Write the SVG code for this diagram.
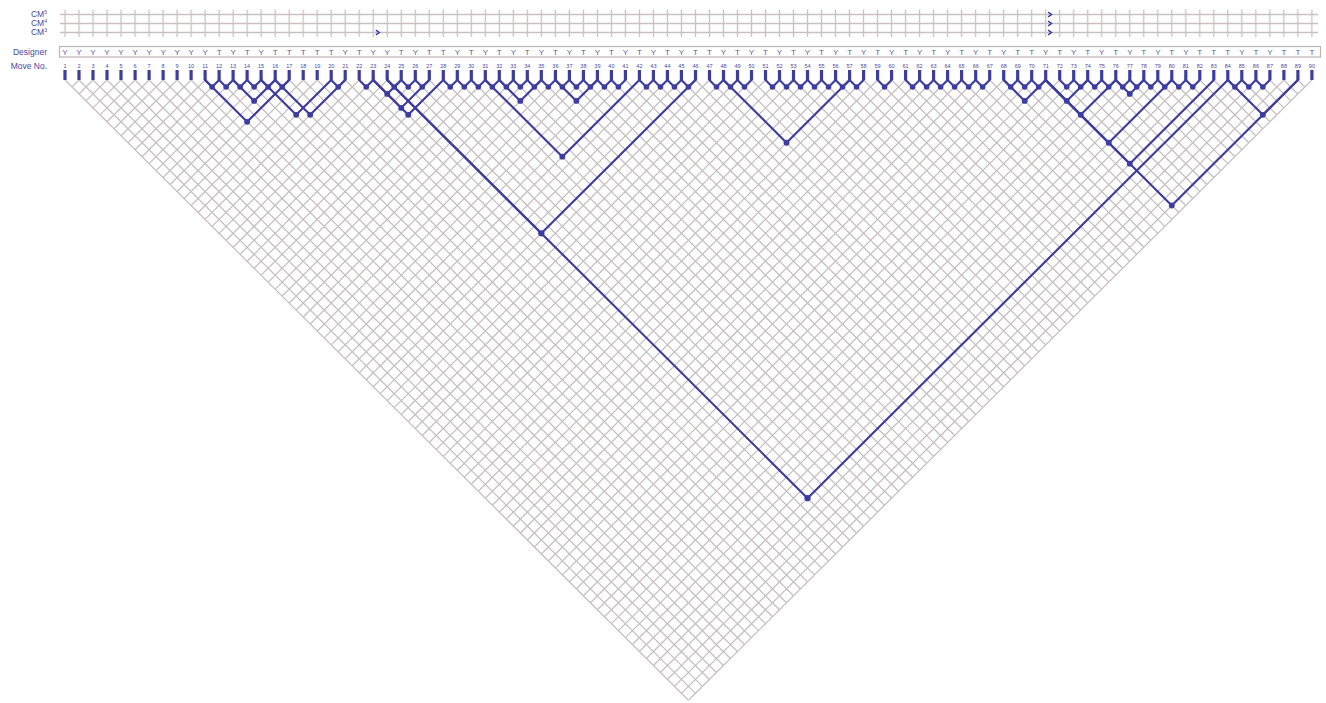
<svg xmlns="http://www.w3.org/2000/svg" width="1326" height="703" viewBox="0 0 1326 703">
<style>
.g{fill:none;stroke:#c9c1c1;stroke-width:1.3;vector-effect:non-scaling-stroke}
.hg{fill:none;stroke:#c9c1c1;stroke-width:1.3}
.lk path{fill:none;stroke:#3c3ca8;stroke-width:2.1;stroke-linejoin:round;stroke-linecap:round;vector-effect:non-scaling-stroke}
.lk circle{fill:#3c3ca8}
.mv path{stroke:#3c3ca8;stroke-width:3.2}
.mv text{font-family:"Liberation Sans",Arial,sans-serif;font-size:5.5px;fill:#4848a8;text-anchor:middle}
.mv text.d{font-size:8px;fill:#5a5aa8}
.lab{font-family:"Liberation Sans",Arial,sans-serif;font-size:8.5px;fill:#4848a8;text-anchor:end}
</style>
<defs>
<pattern id="vl" patternUnits="userSpaceOnUse" x="57.995" y="0" width="14.01" height="40"><path d="M7.005 0V40" stroke="#c9c1c1" stroke-width="1.3"/></pattern>
<path id="chev" d="M-1.6 -2.4L1.8 0L-1.6 2.4" fill="none" stroke="#3c3ca8" stroke-width="1.5"/>
</defs>
<rect width="1326" height="703" fill="#fff"/>
<g id="header">
<rect x="58" y="9.5" width="1261" height="27.5" fill="url(#vl)"/>
<path class="hg" d="M60 14.5H1318M60 23.5H1318M60 32.5H1318"/>
<rect x="59.5" y="46.5" width="1261" height="10.5" fill="none" stroke="#bdb5b5" stroke-width="1.2"/>
<text class="lab" x="47" y="17">CM<tspan font-size="5" dy="-3">5</tspan></text>
<text class="lab" x="47" y="26">CM<tspan font-size="5" dy="-3">4</tspan></text>
<text class="lab" x="47" y="35">CM<tspan font-size="5" dy="-3">3</tspan></text>
<text class="lab" x="47" y="54.5">Designer</text>
<text class="lab" x="47" y="69">Move No.</text>
<use href="#chev" x="377.5" y="32.5"/>
<use href="#chev" x="1049.7" y="14.5"/>
<use href="#chev" x="1049.7" y="23.5"/>
<use href="#chev" x="1049.7" y="32.5"/>
</g>
<g id="grid" transform="translate(65,80) scale(7.005,6.97)">
<path class="g" d="M0 0l89 89M2 0l88 88M4 0l87 87M6 0l86 86M8 0l85 85M10 0l84 84M12 0l83 83M14 0l82 82M16 0l81 81M18 0l80 80M20 0l79 79M22 0l78 78M24 0l77 77M26 0l76 76M28 0l75 75M30 0l74 74M32 0l73 73M34 0l72 72M36 0l71 71M38 0l70 70M40 0l69 69M42 0l68 68M44 0l67 67M46 0l66 66M48 0l65 65M50 0l64 64M52 0l63 63M54 0l62 62M56 0l61 61M58 0l60 60M60 0l59 59M62 0l58 58M64 0l57 57M66 0l56 56M68 0l55 55M70 0l54 54M72 0l53 53M74 0l52 52M76 0l51 51M78 0l50 50M80 0l49 49M82 0l48 48M84 0l47 47M86 0l46 46M88 0l45 45M90 0l44 44M92 0l43 43M94 0l42 42M96 0l41 41M98 0l40 40M100 0l39 39M102 0l38 38M104 0l37 37M106 0l36 36M108 0l35 35M110 0l34 34M112 0l33 33M114 0l32 32M116 0l31 31M118 0l30 30M120 0l29 29M122 0l28 28M124 0l27 27M126 0l26 26M128 0l25 25M130 0l24 24M132 0l23 23M134 0l22 22M136 0l21 21M138 0l20 20M140 0l19 19M142 0l18 18M144 0l17 17M146 0l16 16M148 0l15 15M150 0l14 14M152 0l13 13M154 0l12 12M156 0l11 11M158 0l10 10M160 0l9 9M162 0l8 8M164 0l7 7M166 0l6 6M168 0l5 5M170 0l4 4M172 0l3 3M174 0l2 2M176 0l1 1"/>
<path class="g" d="M2 0l-1 1M4 0l-2 2M6 0l-3 3M8 0l-4 4M10 0l-5 5M12 0l-6 6M14 0l-7 7M16 0l-8 8M18 0l-9 9M20 0l-10 10M22 0l-11 11M24 0l-12 12M26 0l-13 13M28 0l-14 14M30 0l-15 15M32 0l-16 16M34 0l-17 17M36 0l-18 18M38 0l-19 19M40 0l-20 20M42 0l-21 21M44 0l-22 22M46 0l-23 23M48 0l-24 24M50 0l-25 25M52 0l-26 26M54 0l-27 27M56 0l-28 28M58 0l-29 29M60 0l-30 30M62 0l-31 31M64 0l-32 32M66 0l-33 33M68 0l-34 34M70 0l-35 35M72 0l-36 36M74 0l-37 37M76 0l-38 38M78 0l-39 39M80 0l-40 40M82 0l-41 41M84 0l-42 42M86 0l-43 43M88 0l-44 44M90 0l-45 45M92 0l-46 46M94 0l-47 47M96 0l-48 48M98 0l-49 49M100 0l-50 50M102 0l-51 51M104 0l-52 52M106 0l-53 53M108 0l-54 54M110 0l-55 55M112 0l-56 56M114 0l-57 57M116 0l-58 58M118 0l-59 59M120 0l-60 60M122 0l-61 61M124 0l-62 62M126 0l-63 63M128 0l-64 64M130 0l-65 65M132 0l-66 66M134 0l-67 67M136 0l-68 68M138 0l-69 69M140 0l-70 70M142 0l-71 71M144 0l-72 72M146 0l-73 73M148 0l-74 74M150 0l-75 75M152 0l-76 76M154 0l-77 77M156 0l-78 78M158 0l-79 79M160 0l-80 80M162 0l-81 81M164 0l-82 82M166 0l-83 83M168 0l-84 84M170 0l-85 85M172 0l-86 86M174 0l-87 87M176 0l-88 88M178 0l-89 89"/>
</g>
<g id="connectors" class="lk" transform="translate(65,80) scale(7.005,6.97)">
<path d="M20 0L21 1L22 0"/><path d="M22 0L23 1L24 0"/><path d="M24 0L25 1L26 0"/><path d="M26 0L27 1L28 0"/><path d="M28 0L29 1L30 0"/><path d="M30 0L31 1L32 0"/>
<path d="M24 0L27 3L30 0"/><path d="M20 0L26 6L32 0"/><path d="M28 0L33 5L38 0"/><path d="M30 0L35 5L40 0"/><path d="M38 0L39 1L40 0"/>
<path d="M42 0L43 1L44 0"/><path d="M44 0L46 2L48 0"/><path d="M44 0L48 4L52 0"/><path d="M44 0L49 5L54 0"/>
<path d="M46 0L47 1L48 0"/><path d="M48 0L49 1L50 0"/><path d="M50 0L51 1L52 0"/>
<path d="M46 0L68 22L90 0"/><path d="M46 0L106 60L166 0"/>
<path d="M54 0L55 1L56 0"/><path d="M56 0L57 1L58 0"/><path d="M58 0L59 1L60 0"/><path d="M60 0L61 1L62 0"/><path d="M62 0L63 1L64 0"/><path d="M64 0L65 1L66 0"/><path d="M66 0L67 1L68 0"/><path d="M68 0L69 1L70 0"/><path d="M70 0L71 1L72 0"/><path d="M72 0L73 1L74 0"/><path d="M74 0L75 1L76 0"/><path d="M76 0L77 1L78 0"/><path d="M78 0L79 1L80 0"/>
<path d="M62 0L65 3L68 0"/><path d="M70 0L73 3L76 0"/><path d="M60 0L71 11L82 0"/>
<path d="M82 0L83 1L84 0"/><path d="M84 0L85 1L86 0"/><path d="M86 0L87 1L88 0"/><path d="M88 0L89 1L90 0"/>
<path d="M92 0L93 1L94 0"/><path d="M94 0L95 1L96 0"/><path d="M96 0L97 1L98 0"/><path d="M94 0L103 9L112 0"/>
<path d="M100 0L101 1L102 0"/><path d="M102 0L103 1L104 0"/><path d="M104 0L105 1L106 0"/><path d="M106 0L107 1L108 0"/><path d="M108 0L109 1L110 0"/><path d="M110 0L111 1L112 0"/><path d="M112 0L113 1L114 0"/>
<path d="M116 0L117 1L118 0"/>
<path d="M120 0L121 1L122 0"/><path d="M122 0L123 1L124 0"/><path d="M124 0L125 1L126 0"/><path d="M126 0L127 1L128 0"/><path d="M128 0L129 1L130 0"/><path d="M130 0L131 1L132 0"/>
<path d="M134 0L135 1L136 0"/><path d="M136 0L137 1L138 0"/><path d="M138 0L139 1L140 0"/><path d="M134 0L137 3L140 0"/>
<path d="M140 0L143 3L146 0"/><path d="M140 0L145 5L150 0"/><path d="M140 0L149 9L158 0"/><path d="M140 0L152 12L164 0"/><path d="M140 0L158 18L176 0"/>
<path d="M142 0L143 1L144 0"/><path d="M144 0L145 1L146 0"/><path d="M146 0L147 1L148 0"/><path d="M148 0L149 1L150 0"/><path d="M150 0L151 1L152 0"/><path d="M152 0L153 1L154 0"/><path d="M154 0L155 1L156 0"/><path d="M156 0L157 1L158 0"/><path d="M158 0L159 1L160 0"/><path d="M160 0L161 1L162 0"/><path d="M150 0L152 2L154 0"/>
<path d="M166 0L167 1L168 0"/><path d="M168 0L169 1L170 0"/><path d="M170 0L171 1L172 0"/><path d="M166 0L171 5L176 0"/>
<circle cx="21" cy="1" r="0.4"/><circle cx="23" cy="1" r="0.4"/><circle cx="25" cy="1" r="0.4"/><circle cx="27" cy="1" r="0.4"/><circle cx="29" cy="1" r="0.4"/><circle cx="31" cy="1" r="0.4"/>
<circle cx="27" cy="3" r="0.42"/><circle cx="26" cy="6" r="0.42"/><circle cx="33" cy="5" r="0.42"/><circle cx="35" cy="5" r="0.42"/><circle cx="39" cy="1" r="0.4"/>
<circle cx="43" cy="1" r="0.4"/><circle cx="46" cy="2" r="0.42"/><circle cx="48" cy="4" r="0.42"/><circle cx="49" cy="5" r="0.42"/>
<circle cx="47" cy="1" r="0.4"/><circle cx="49" cy="1" r="0.4"/><circle cx="51" cy="1" r="0.4"/>
<circle cx="68" cy="22" r="0.45"/><circle cx="106" cy="60" r="0.45"/>
<circle cx="55" cy="1" r="0.4"/><circle cx="57" cy="1" r="0.4"/><circle cx="59" cy="1" r="0.4"/><circle cx="61" cy="1" r="0.4"/><circle cx="63" cy="1" r="0.4"/><circle cx="65" cy="1" r="0.4"/><circle cx="67" cy="1" r="0.4"/><circle cx="69" cy="1" r="0.4"/><circle cx="71" cy="1" r="0.4"/><circle cx="73" cy="1" r="0.4"/><circle cx="75" cy="1" r="0.4"/><circle cx="77" cy="1" r="0.4"/><circle cx="79" cy="1" r="0.4"/>
<circle cx="65" cy="3" r="0.42"/><circle cx="73" cy="3" r="0.42"/><circle cx="71" cy="11" r="0.42"/>
<circle cx="83" cy="1" r="0.4"/><circle cx="85" cy="1" r="0.4"/><circle cx="87" cy="1" r="0.4"/><circle cx="89" cy="1" r="0.4"/>
<circle cx="93" cy="1" r="0.4"/><circle cx="95" cy="1" r="0.4"/><circle cx="97" cy="1" r="0.4"/><circle cx="103" cy="9" r="0.42"/>
<circle cx="101" cy="1" r="0.4"/><circle cx="103" cy="1" r="0.4"/><circle cx="105" cy="1" r="0.4"/><circle cx="107" cy="1" r="0.4"/><circle cx="109" cy="1" r="0.4"/><circle cx="111" cy="1" r="0.4"/><circle cx="113" cy="1" r="0.4"/>
<circle cx="117" cy="1" r="0.4"/>
<circle cx="121" cy="1" r="0.4"/><circle cx="123" cy="1" r="0.4"/><circle cx="125" cy="1" r="0.4"/><circle cx="127" cy="1" r="0.4"/><circle cx="129" cy="1" r="0.4"/><circle cx="131" cy="1" r="0.4"/>
<circle cx="135" cy="1" r="0.4"/><circle cx="137" cy="1" r="0.4"/><circle cx="139" cy="1" r="0.4"/><circle cx="137" cy="3" r="0.42"/>
<circle cx="143" cy="3" r="0.42"/><circle cx="145" cy="5" r="0.42"/><circle cx="149" cy="9" r="0.42"/><circle cx="152" cy="12" r="0.42"/><circle cx="158" cy="18" r="0.42"/>
<circle cx="143" cy="1" r="0.4"/><circle cx="145" cy="1" r="0.4"/><circle cx="147" cy="1" r="0.4"/><circle cx="149" cy="1" r="0.4"/><circle cx="151" cy="1" r="0.4"/><circle cx="153" cy="1" r="0.4"/><circle cx="155" cy="1" r="0.4"/><circle cx="157" cy="1" r="0.4"/><circle cx="159" cy="1" r="0.4"/><circle cx="161" cy="1" r="0.4"/><circle cx="152" cy="2" r="0.42"/>
<circle cx="167" cy="1" r="0.4"/><circle cx="169" cy="1" r="0.4"/><circle cx="171" cy="1" r="0.4"/><circle cx="171" cy="5" r="0.42"/>
</g>
<g id="moves" class="mv">
<g id="m1"><path d="M65 70V80"/><text x="65" y="68">1</text><text class="d" x="65" y="54.8">Y</text></g>
<g id="m2"><path d="M79 70V80"/><text x="79" y="68">2</text><text class="d" x="79" y="54.8">Y</text></g>
<g id="m3"><path d="M93 70V80"/><text x="93" y="68">3</text><text class="d" x="93" y="54.8">Y</text></g>
<g id="m4"><path d="M107 70V80"/><text x="107" y="68">4</text><text class="d" x="107" y="54.8">Y</text></g>
<g id="m5"><path d="M121 70V80"/><text x="121" y="68">5</text><text class="d" x="121" y="54.8">Y</text></g>
<g id="m6"><path d="M135.1 70V80"/><text x="135.1" y="68">6</text><text class="d" x="135.1" y="54.8">Y</text></g>
<g id="m7"><path d="M149.1 70V80"/><text x="149.1" y="68">7</text><text class="d" x="149.1" y="54.8">Y</text></g>
<g id="m8"><path d="M163.1 70V80"/><text x="163.1" y="68">8</text><text class="d" x="163.1" y="54.8">Y</text></g>
<g id="m9"><path d="M177.1 70V80"/><text x="177.1" y="68">9</text><text class="d" x="177.1" y="54.8">Y</text></g>
<g id="m10"><path d="M191.1 70V80"/><text x="191.1" y="68">10</text><text class="d" x="191.1" y="54.8">Y</text></g>
<g id="m11"><path d="M205.1 70V80"/><text x="205.1" y="68">11</text><text class="d" x="205.1" y="54.8">Y</text></g>
<g id="m12"><path d="M219.1 70V80"/><text x="219.1" y="68">12</text><text class="d" x="219.1" y="54.8">T</text></g>
<g id="m13"><path d="M233.1 70V80"/><text x="233.1" y="68">13</text><text class="d" x="233.1" y="54.8">Y</text></g>
<g id="m14"><path d="M247.1 70V80"/><text x="247.1" y="68">14</text><text class="d" x="247.1" y="54.8">T</text></g>
<g id="m15"><path d="M261.1 70V80"/><text x="261.1" y="68">15</text><text class="d" x="261.1" y="54.8">Y</text></g>
<g id="m16"><path d="M275.2 70V80"/><text x="275.2" y="68">16</text><text class="d" x="275.2" y="54.8">T</text></g>
<g id="m17"><path d="M289.2 70V80"/><text x="289.2" y="68">17</text><text class="d" x="289.2" y="54.8">T</text></g>
<g id="m18"><path d="M303.2 70V80"/><text x="303.2" y="68">18</text><text class="d" x="303.2" y="54.8">T</text></g>
<g id="m19"><path d="M317.2 70V80"/><text x="317.2" y="68">19</text><text class="d" x="317.2" y="54.8">T</text></g>
<g id="m20"><path d="M331.2 70V80"/><text x="331.2" y="68">20</text><text class="d" x="331.2" y="54.8">T</text></g>
<g id="m21"><path d="M345.2 70V80"/><text x="345.2" y="68">21</text><text class="d" x="345.2" y="54.8">Y</text></g>
<g id="m22"><path d="M359.2 70V80"/><text x="359.2" y="68">22</text><text class="d" x="359.2" y="54.8">T</text></g>
<g id="m23"><path d="M373.2 70V80"/><text x="373.2" y="68">23</text><text class="d" x="373.2" y="54.8">Y</text></g>
<g id="m24"><path d="M387.2 70V80"/><text x="387.2" y="68">24</text><text class="d" x="387.2" y="54.8">Y</text></g>
<g id="m25"><path d="M401.2 70V80"/><text x="401.2" y="68">25</text><text class="d" x="401.2" y="54.8">T</text></g>
<g id="m26"><path d="M415.3 70V80"/><text x="415.3" y="68">26</text><text class="d" x="415.3" y="54.8">Y</text></g>
<g id="m27"><path d="M429.3 70V80"/><text x="429.3" y="68">27</text><text class="d" x="429.3" y="54.8">T</text></g>
<g id="m28"><path d="M443.3 70V80"/><text x="443.3" y="68">28</text><text class="d" x="443.3" y="54.8">T</text></g>
<g id="m29"><path d="M457.3 70V80"/><text x="457.3" y="68">29</text><text class="d" x="457.3" y="54.8">Y</text></g>
<g id="m30"><path d="M471.3 70V80"/><text x="471.3" y="68">30</text><text class="d" x="471.3" y="54.8">T</text></g>
<g id="m31"><path d="M485.3 70V80"/><text x="485.3" y="68">31</text><text class="d" x="485.3" y="54.8">Y</text></g>
<g id="m32"><path d="M499.3 70V80"/><text x="499.3" y="68">32</text><text class="d" x="499.3" y="54.8">T</text></g>
<g id="m33"><path d="M513.3 70V80"/><text x="513.3" y="68">33</text><text class="d" x="513.3" y="54.8">Y</text></g>
<g id="m34"><path d="M527.3 70V80"/><text x="527.3" y="68">34</text><text class="d" x="527.3" y="54.8">T</text></g>
<g id="m35"><path d="M541.3 70V80"/><text x="541.3" y="68">35</text><text class="d" x="541.3" y="54.8">Y</text></g>
<g id="m36"><path d="M555.4 70V80"/><text x="555.4" y="68">36</text><text class="d" x="555.4" y="54.8">T</text></g>
<g id="m37"><path d="M569.4 70V80"/><text x="569.4" y="68">37</text><text class="d" x="569.4" y="54.8">Y</text></g>
<g id="m38"><path d="M583.4 70V80"/><text x="583.4" y="68">38</text><text class="d" x="583.4" y="54.8">T</text></g>
<g id="m39"><path d="M597.4 70V80"/><text x="597.4" y="68">39</text><text class="d" x="597.4" y="54.8">Y</text></g>
<g id="m40"><path d="M611.4 70V80"/><text x="611.4" y="68">40</text><text class="d" x="611.4" y="54.8">T</text></g>
<g id="m41"><path d="M625.4 70V80"/><text x="625.4" y="68">41</text><text class="d" x="625.4" y="54.8">Y</text></g>
<g id="m42"><path d="M639.4 70V80"/><text x="639.4" y="68">42</text><text class="d" x="639.4" y="54.8">T</text></g>
<g id="m43"><path d="M653.4 70V80"/><text x="653.4" y="68">43</text><text class="d" x="653.4" y="54.8">Y</text></g>
<g id="m44"><path d="M667.4 70V80"/><text x="667.4" y="68">44</text><text class="d" x="667.4" y="54.8">T</text></g>
<g id="m45"><path d="M681.4 70V80"/><text x="681.4" y="68">45</text><text class="d" x="681.4" y="54.8">Y</text></g>
<g id="m46"><path d="M695.5 70V80"/><text x="695.5" y="68">46</text><text class="d" x="695.5" y="54.8">T</text></g>
<g id="m47"><path d="M709.5 70V80"/><text x="709.5" y="68">47</text><text class="d" x="709.5" y="54.8">T</text></g>
<g id="m48"><path d="M723.5 70V80"/><text x="723.5" y="68">48</text><text class="d" x="723.5" y="54.8">Y</text></g>
<g id="m49"><path d="M737.5 70V80"/><text x="737.5" y="68">49</text><text class="d" x="737.5" y="54.8">T</text></g>
<g id="m50"><path d="M751.5 70V80"/><text x="751.5" y="68">50</text><text class="d" x="751.5" y="54.8">Y</text></g>
<g id="m51"><path d="M765.5 70V80"/><text x="765.5" y="68">51</text><text class="d" x="765.5" y="54.8">T</text></g>
<g id="m52"><path d="M779.5 70V80"/><text x="779.5" y="68">52</text><text class="d" x="779.5" y="54.8">Y</text></g>
<g id="m53"><path d="M793.5 70V80"/><text x="793.5" y="68">53</text><text class="d" x="793.5" y="54.8">T</text></g>
<g id="m54"><path d="M807.5 70V80"/><text x="807.5" y="68">54</text><text class="d" x="807.5" y="54.8">Y</text></g>
<g id="m55"><path d="M821.5 70V80"/><text x="821.5" y="68">55</text><text class="d" x="821.5" y="54.8">T</text></g>
<g id="m56"><path d="M835.6 70V80"/><text x="835.6" y="68">56</text><text class="d" x="835.6" y="54.8">Y</text></g>
<g id="m57"><path d="M849.6 70V80"/><text x="849.6" y="68">57</text><text class="d" x="849.6" y="54.8">T</text></g>
<g id="m58"><path d="M863.6 70V80"/><text x="863.6" y="68">58</text><text class="d" x="863.6" y="54.8">Y</text></g>
<g id="m59"><path d="M877.6 70V80"/><text x="877.6" y="68">59</text><text class="d" x="877.6" y="54.8">T</text></g>
<g id="m60"><path d="M891.6 70V80"/><text x="891.6" y="68">60</text><text class="d" x="891.6" y="54.8">Y</text></g>
<g id="m61"><path d="M905.6 70V80"/><text x="905.6" y="68">61</text><text class="d" x="905.6" y="54.8">T</text></g>
<g id="m62"><path d="M919.6 70V80"/><text x="919.6" y="68">62</text><text class="d" x="919.6" y="54.8">Y</text></g>
<g id="m63"><path d="M933.6 70V80"/><text x="933.6" y="68">63</text><text class="d" x="933.6" y="54.8">T</text></g>
<g id="m64"><path d="M947.6 70V80"/><text x="947.6" y="68">64</text><text class="d" x="947.6" y="54.8">Y</text></g>
<g id="m65"><path d="M961.6 70V80"/><text x="961.6" y="68">65</text><text class="d" x="961.6" y="54.8">T</text></g>
<g id="m66"><path d="M975.7 70V80"/><text x="975.7" y="68">66</text><text class="d" x="975.7" y="54.8">Y</text></g>
<g id="m67"><path d="M989.7 70V80"/><text x="989.7" y="68">67</text><text class="d" x="989.7" y="54.8">T</text></g>
<g id="m68"><path d="M1003.7 70V80"/><text x="1003.7" y="68">68</text><text class="d" x="1003.7" y="54.8">Y</text></g>
<g id="m69"><path d="M1017.7 70V80"/><text x="1017.7" y="68">69</text><text class="d" x="1017.7" y="54.8">T</text></g>
<g id="m70"><path d="M1031.7 70V80"/><text x="1031.7" y="68">70</text><text class="d" x="1031.7" y="54.8">T</text></g>
<g id="m71"><path d="M1045.7 70V80"/><text x="1045.7" y="68">71</text><text class="d" x="1045.7" y="54.8">Y</text></g>
<g id="m72"><path d="M1059.7 70V80"/><text x="1059.7" y="68">72</text><text class="d" x="1059.7" y="54.8">T</text></g>
<g id="m73"><path d="M1073.7 70V80"/><text x="1073.7" y="68">73</text><text class="d" x="1073.7" y="54.8">Y</text></g>
<g id="m74"><path d="M1087.7 70V80"/><text x="1087.7" y="68">74</text><text class="d" x="1087.7" y="54.8">T</text></g>
<g id="m75"><path d="M1101.7 70V80"/><text x="1101.7" y="68">75</text><text class="d" x="1101.7" y="54.8">Y</text></g>
<g id="m76"><path d="M1115.8 70V80"/><text x="1115.8" y="68">76</text><text class="d" x="1115.8" y="54.8">T</text></g>
<g id="m77"><path d="M1129.8 70V80"/><text x="1129.8" y="68">77</text><text class="d" x="1129.8" y="54.8">Y</text></g>
<g id="m78"><path d="M1143.8 70V80"/><text x="1143.8" y="68">78</text><text class="d" x="1143.8" y="54.8">T</text></g>
<g id="m79"><path d="M1157.8 70V80"/><text x="1157.8" y="68">79</text><text class="d" x="1157.8" y="54.8">Y</text></g>
<g id="m80"><path d="M1171.8 70V80"/><text x="1171.8" y="68">80</text><text class="d" x="1171.8" y="54.8">T</text></g>
<g id="m81"><path d="M1185.8 70V80"/><text x="1185.8" y="68">81</text><text class="d" x="1185.8" y="54.8">Y</text></g>
<g id="m82"><path d="M1199.8 70V80"/><text x="1199.8" y="68">82</text><text class="d" x="1199.8" y="54.8">T</text></g>
<g id="m83"><path d="M1213.8 70V80"/><text x="1213.8" y="68">83</text><text class="d" x="1213.8" y="54.8">T</text></g>
<g id="m84"><path d="M1227.8 70V80"/><text x="1227.8" y="68">84</text><text class="d" x="1227.8" y="54.8">T</text></g>
<g id="m85"><path d="M1241.8 70V80"/><text x="1241.8" y="68">85</text><text class="d" x="1241.8" y="54.8">Y</text></g>
<g id="m86"><path d="M1255.9 70V80"/><text x="1255.9" y="68">86</text><text class="d" x="1255.9" y="54.8">T</text></g>
<g id="m87"><path d="M1269.9 70V80"/><text x="1269.9" y="68">87</text><text class="d" x="1269.9" y="54.8">Y</text></g>
<g id="m88"><path d="M1283.9 70V80"/><text x="1283.9" y="68">88</text><text class="d" x="1283.9" y="54.8">T</text></g>
<g id="m89"><path d="M1297.9 70V80"/><text x="1297.9" y="68">89</text><text class="d" x="1297.9" y="54.8">T</text></g>
<g id="m90"><path d="M1311.9 70V80"/><text x="1311.9" y="68">90</text><text class="d" x="1311.9" y="54.8">T</text></g>
</g>
</svg>
